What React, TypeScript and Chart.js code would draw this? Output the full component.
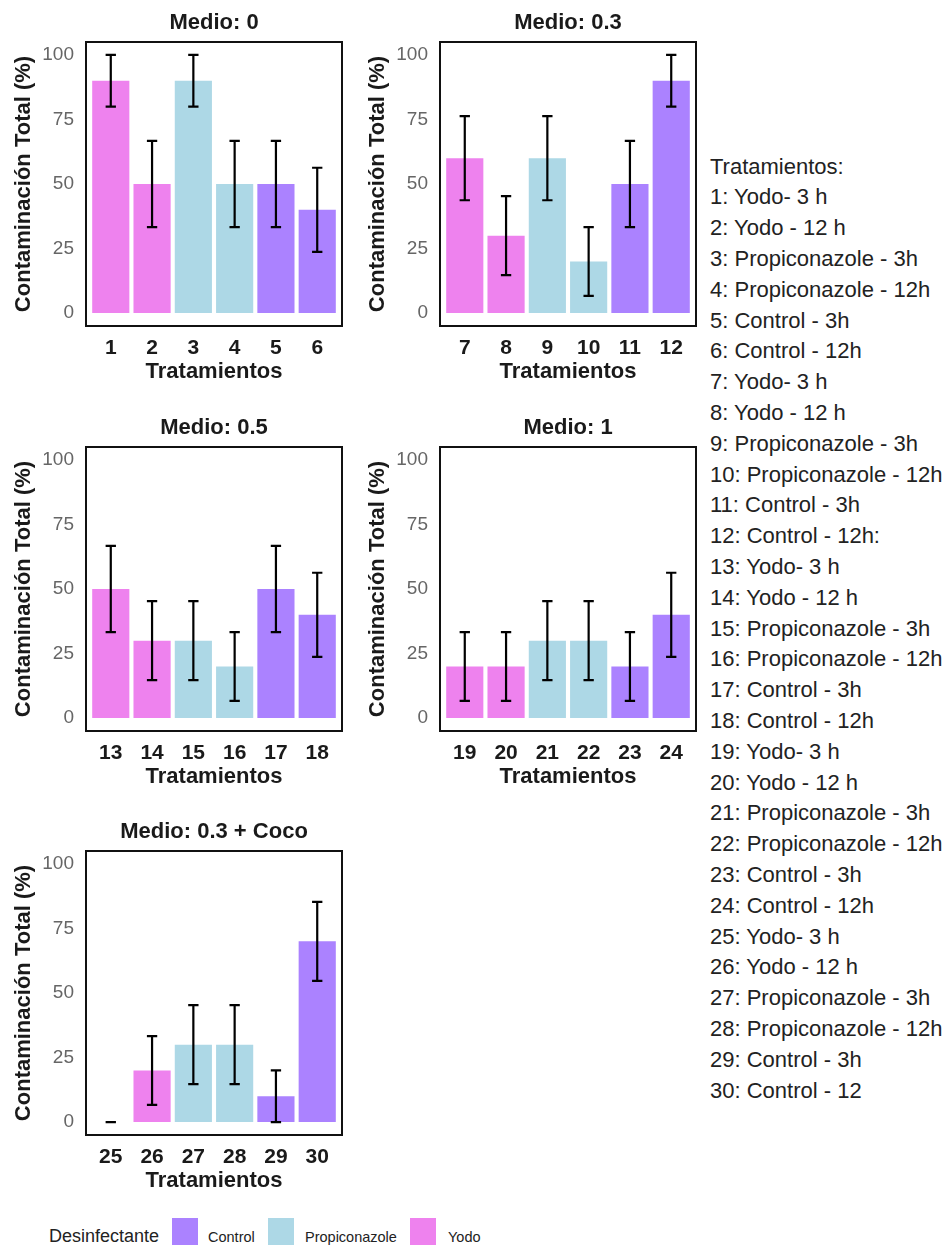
import React, { useEffect, useRef } from "react";
import { Chart, registerables } from "chart.js";

Chart.register(...registerables);

const FONT = '"Liberation Sans", Arial, Helvetica, sans-serif';
Chart.defaults.font.family = FONT;

// ---------- data ----------
const yTickValues = [0, 25, 50, 75, 100];
const desinfectantePorPosicion = ["Yodo", "Yodo", "Propiconazole", "Propiconazole", "Control", "Control"];
const colorDesinfectante: Record<string, string> = {
  Control: "#AB82FF",
  Propiconazole: "#ADD8E6",
  Yodo: "#EE82EE",
};

const medio0Labels = ["1", "2", "3", "4", "5", "6"];
const medio0Values = [90, 50, 90, 50, 50, 40];
const medio0Lower = [80, 33.3, 80, 33.3, 33.3, 23.7];
const medio0Upper = [100, 66.7, 100, 66.7, 66.7, 56.3];

const medio03Labels = ["7", "8", "9", "10", "11", "12"];
const medio03Values = [60, 30, 60, 20, 50, 90];
const medio03Lower = [43.7, 14.7, 43.7, 6.7, 33.3, 80];
const medio03Upper = [76.3, 45.3, 76.3, 33.3, 66.7, 100];

const medio05Labels = ["13", "14", "15", "16", "17", "18"];
const medio05Values = [50, 30, 30, 20, 50, 40];
const medio05Lower = [33.3, 14.7, 14.7, 6.7, 33.3, 23.7];
const medio05Upper = [66.7, 45.3, 45.3, 33.3, 66.7, 56.3];

const medio1Labels = ["19", "20", "21", "22", "23", "24"];
const medio1Values = [20, 20, 30, 30, 20, 40];
const medio1Lower = [6.7, 6.7, 14.7, 14.7, 6.7, 23.7];
const medio1Upper = [33.3, 33.3, 45.3, 45.3, 33.3, 56.3];

const cocoLabels = ["25", "26", "27", "28", "29", "30"];
const cocoValues = [0, 20, 30, 30, 10, 70];
const cocoLower = [0, 6.7, 14.7, 14.7, 0, 54.7];
const cocoUpper = [0, 33.3, 45.3, 45.3, 20, 85.3];

const captionLines = [
  "Tratamientos:",
  "1: Yodo- 3 h",
  "2: Yodo - 12 h",
  "3: Propiconazole - 3h",
  "4: Propiconazole - 12h",
  "5: Control - 3h",
  "6: Control - 12h",
  "7: Yodo- 3 h",
  "8: Yodo - 12 h",
  "9: Propiconazole - 3h",
  "10: Propiconazole - 12h",
  "11: Control - 3h",
  "12: Control - 12h:",
  "13: Yodo- 3 h",
  "14: Yodo - 12 h",
  "15: Propiconazole - 3h",
  "16: Propiconazole - 12h",
  "17: Control - 3h",
  "18: Control - 12h",
  "19: Yodo- 3 h",
  "20: Yodo - 12 h",
  "21: Propiconazole - 3h",
  "22: Propiconazole - 12h",
  "23: Control - 3h",
  "24: Control - 12h",
  "25: Yodo- 3 h",
  "26: Yodo - 12 h",
  "27: Propiconazole - 3h",
  "28: Propiconazole - 12h",
  "29: Control - 3h",
  "30: Control - 12",
];

const legendTitle = "Desinfectante";
const legendItems = ["Control", "Propiconazole", "Yodo"];

// ---------- plugins ----------
const errorBarsPlugin = {
  id: "errorBars",
  afterDatasetsDraw(chart: any, _args: any, opts: any) {
    const { ctx } = chart;
    const x = chart.scales.x;
    const y = chart.scales.y;
    const lo: number[] = opts.lower || [];
    const hi: number[] = opts.upper || [];
    const unit = x.getPixelForValue(2) - x.getPixelForValue(1);
    const cap = unit * 0.125;
    ctx.save();
    ctx.strokeStyle = "#000";
    ctx.lineWidth = 2.2;
    ctx.lineCap = "butt";
    lo.forEach((l, i) => {
      const px = x.getPixelForValue(i + 1);
      const y1 = y.getPixelForValue(l);
      const y2 = y.getPixelForValue(hi[i]);
      ctx.beginPath();
      ctx.moveTo(px, y1);
      ctx.lineTo(px, y2);
      ctx.moveTo(px - cap, y1);
      ctx.lineTo(px + cap, y1);
      ctx.moveTo(px - cap, y2);
      ctx.lineTo(px + cap, y2);
      ctx.stroke();
    });
    ctx.restore();
  },
};

const panelBorderPlugin = {
  id: "panelBorder",
  afterDraw(chart: any) {
    const { ctx, chartArea: a } = chart;
    ctx.save();
    ctx.strokeStyle = "#111";
    ctx.lineWidth = 2;
    ctx.strokeRect(a.left, a.top, a.right - a.left, a.bottom - a.top);
    ctx.restore();
  },
};

type PanelProps = {
  title: string;
  labels: string[];
  values: number[];
  lower: number[];
  upper: number[];
  left: number;
  top: number;
};

const W = 350;
const H = 396;

function Panel({ title, labels, values, lower, upper, left, top }: PanelProps) {
  const ref = useRef<HTMLCanvasElement | null>(null);
  useEffect(() => {
    if (!ref.current) return;
    const chart = new Chart(ref.current, {
      type: "bar",
      data: {
        datasets: [
          {
            data: labels.map((_, i) => ({ x: i + 1, y: values[i] })),
            backgroundColor: desinfectantePorPosicion.map((d) => colorDesinfectante[d]),
            borderWidth: 0,
            barPercentage: 0.9,
            categoryPercentage: 1,
          } as any,
        ],
      },
      options: {
        responsive: false,
        animation: false,
        devicePixelRatio: 1,
        layout: { padding: { left: 0, right: 8, top: 0, bottom: 0 } },
        plugins: {
          legend: { display: false },
          tooltip: { enabled: false },
          title: {
            display: true,
            fullSize: false,
            text: title,
            color: "#1a1a1a",
            font: { family: FONT, size: 22, weight: "bold" },
            padding: { top: 9.6, bottom: 6 },
          },
          errorBars: { lower, upper },
        } as any,
        scales: {
          x: {
            type: "linear",
            min: 0.4,
            max: 6.6,
            offset: false,
            grid: { display: false },
            border: { display: false },
            afterBuildTicks: (s: any) => {
              s.ticks = labels.map((_, i) => ({ value: i + 1 }));
            },
            afterFit: (s: any) => {
              s.height = 70;
            },
            ticks: {
              autoSkip: false,
              maxRotation: 0,
              padding: 2,
              color: "#1a1a1a",
              font: { family: FONT, size: 21, weight: "bold" },
              callback: (v: any) => labels[Math.round(Number(v)) - 1] ?? "",
            },
            title: {
              display: true,
              text: "Tratamientos",
              color: "#1a1a1a",
              font: { family: FONT, size: 22, weight: "bold" },
              padding: { top: 0, bottom: 10.8 },
            },
          },
          y: {
            type: "linear",
            min: -5,
            max: 105,
            grid: { display: false },
            border: { display: false },
            afterBuildTicks: (s: any) => {
              s.ticks = yTickValues.map((v) => ({ value: v }));
            },
            afterFit: (s: any) => {
              s.width = 86;
            },
            ticks: {
              padding: 4,
              color: "#666666",
              font: { family: FONT, size: 19 },
            },
            title: {
              display: true,
              text: "Contaminación Total (%)",
              color: "#1a1a1a",
              font: { family: FONT, size: 22, weight: "bold" },
              padding: { top: 11, bottom: 0 },
            },
          },
        } as any,
      },
      plugins: [errorBarsPlugin, panelBorderPlugin],
    });
    return () => chart.destroy();
  }, []);
  return (
    <canvas
      ref={ref}
      width={W}
      height={H}
      style={{ position: "absolute", left, top, width: W, height: H }}
    />
  );
}

export default function App() {
  return (
    <div
      style={{
        position: "absolute",
        left: 0,
        top: 0,
        width: 950,
        height: 1245,
        background: "#fff",
        overflow: "hidden",
        fontFamily: FONT,
      }}
    >
      <Panel title="Medio: 0" labels={medio0Labels} values={medio0Values} lower={medio0Lower} upper={medio0Upper} left={0} top={0} />
      <Panel title="Medio: 0.3" labels={medio03Labels} values={medio03Values} lower={medio03Lower} upper={medio03Upper} left={354} top={0} />
      <Panel title="Medio: 0.5" labels={medio05Labels} values={medio05Values} lower={medio05Lower} upper={medio05Upper} left={0} top={405} />
      <Panel title="Medio: 1" labels={medio1Labels} values={medio1Values} lower={medio1Lower} upper={medio1Upper} left={354} top={405} />
      <Panel title="Medio: 0.3 + Coco" labels={cocoLabels} values={cocoValues} lower={cocoLower} upper={cocoUpper} left={0} top={809} />

      <div
        style={{
          position: "absolute",
          left: 710,
          top: 151.6,
          fontSize: 22,
          lineHeight: "30.8px",
          color: "#222",
          whiteSpace: "nowrap",
        }}
      >
        {captionLines.map((l, i) => (
          <div key={i}>{l}</div>
        ))}
      </div>

      <div
        style={{
          position: "absolute",
          left: 49,
          top: 1224,
          fontSize: 18,
          lineHeight: "24px",
          color: "#222",
          whiteSpace: "nowrap",
        }}
      >
        {legendTitle}
      </div>
      {legendItems.map((item, i) => {
        const swatchLeft = [172, 268, 410][i];
        const textLeft = [208, 305, 448][i];
        return (
          <React.Fragment key={item}>
            <div
              style={{
                position: "absolute",
                left: swatchLeft,
                top: 1218,
                width: 26,
                height: 28,
                background: colorDesinfectante[item],
              }}
            />
            <div
              style={{
                position: "absolute",
                left: textLeft,
                top: 1228,
                fontSize: 14.5,
                lineHeight: "18px",
                color: "#222",
                whiteSpace: "nowrap",
              }}
            >
              {item}
            </div>
          </React.Fragment>
        );
      })}
    </div>
  );
}
